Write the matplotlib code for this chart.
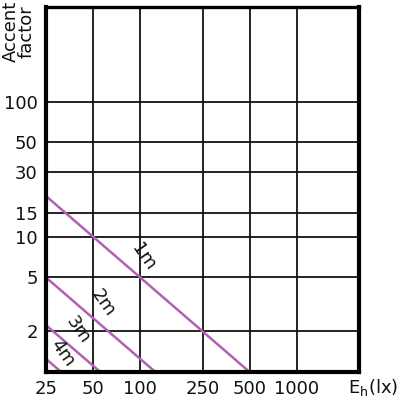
import matplotlib
matplotlib.use("Agg")
import matplotlib.pyplot as plt
from matplotlib.ticker import FixedLocator, NullLocator, FixedFormatter

plt.rcParams['font.family'] = ['DejaVu Sans']
plt.rcParams['mathtext.fontset'] = 'dejavusans'

x_ticks = [25, 50, 100, 250, 500, 1000]
x_tick_labels = ["25", "50", "100", "250", "500", "1000"]
y_ticks = [2, 5, 10, 15, 30, 50, 100]
y_tick_labels = ["2", "5", "10", "15", "30", "50", "100"]

distances = ["1m", "2m", "3m", "4m"]
e_start = [25, 25, 25, 25]
a_start = [20, 5, 2.22, 1.25]
e_end = [500, 125, 55.6, 31.25]
a_end = [1, 1, 1, 1]
label_x = [104, 58, 40, 32]
label_y = [7.1, 3.24, 2.05, 1.38]

line_color = "#b35fb3"

fig = plt.figure(figsize=(4, 4), dpi=100)
ax = fig.add_axes([0.115, 0.07, 0.7825, 0.9125])
ax.set_xscale('log')
ax.set_yscale('log')
ax.set_xlim(25, 2500)
ax.set_ylim(1, 500)

ax.xaxis.set_major_locator(FixedLocator(x_ticks))
ax.xaxis.set_major_formatter(FixedFormatter(x_tick_labels))
ax.xaxis.set_minor_locator(NullLocator())
ax.yaxis.set_major_locator(FixedLocator(y_ticks))
ax.yaxis.set_major_formatter(FixedFormatter(y_tick_labels))
ax.yaxis.set_minor_locator(NullLocator())

ax.grid(True, which='major', color='#111111', linewidth=1.3)
ax.set_axisbelow(True)
ax.tick_params(length=0, labelsize=13, pad=6, colors='#111111')

for side, lw in [('left', 3.0), ('bottom', 3.0), ('right', 3.0), ('top', 2.4)]:
    ax.spines[side].set_linewidth(lw)
    ax.spines[side].set_color('black')

for i, d in enumerate(distances):
    ax.plot([e_start[i], e_end[i]], [a_start[i], a_end[i]], color=line_color,
            linewidth=1.8, solid_capstyle='butt', clip_on=True)
    ax.text(label_x[i], label_y[i], d, rotation=-55, ha='center', va='center',
            fontsize=13, color='#111111')

fig.text(0.047, 0.997, "Accent\nfactor", rotation=90, ha='center', va='top',
         fontsize=13, color='#111111', linespacing=0.85)
fig.text(0.995, 0.03, "E$_{\\mathrm{h}}$(lx)", ha='right', va='center',
         fontsize=13, color='#111111')

fig.savefig("out.png", dpi=100)
